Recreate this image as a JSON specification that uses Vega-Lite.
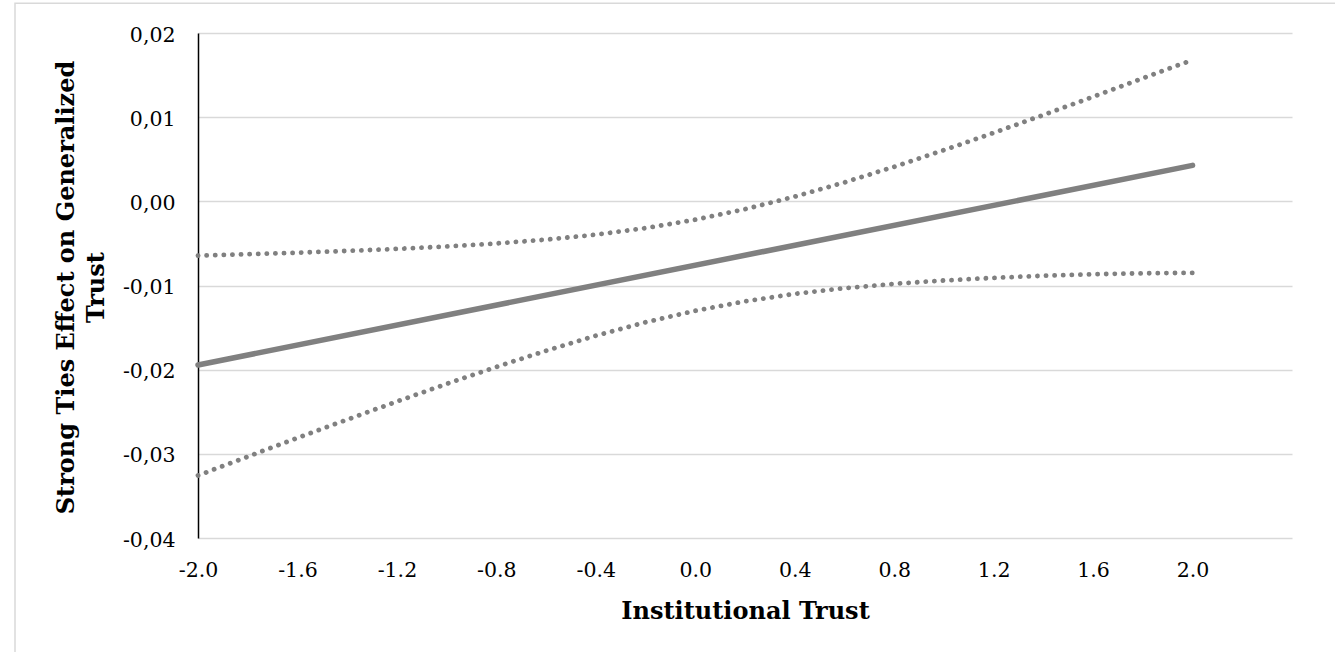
{
  "$schema": "https://vega.github.io/schema/vega-lite/v6.json",
  "autosize": {"type": "none"},
  "padding": {"left": 198, "top": 33, "right": 43, "bottom": 114},
  "width": 1094,
  "height": 505,
  "background": "white",
  "config": {
    "view": {"stroke": null},
    "font": "DejaVu Serif"
  },
  "datasets": {
    "frame": [{"x0": -2.736, "x1": 3.3, "y0": 0.02352, "y1": -0.08}],
    "curves": [
      {"x": -2.0, "y": -0.01945, "s": "estimate"},
      {"x": 2.0, "y": 0.00427, "s": "estimate"},
      {"x": -2.0, "y": -0.00645, "s": "upper"},
      {"x": -1.8, "y": -0.00628, "s": "upper"},
      {"x": -1.6, "y": -0.00610, "s": "upper"},
      {"x": -1.4, "y": -0.00589, "s": "upper"},
      {"x": -1.2, "y": -0.00565, "s": "upper"},
      {"x": -1.0, "y": -0.00536, "s": "upper"},
      {"x": -0.8, "y": -0.00500, "s": "upper"},
      {"x": -0.6, "y": -0.00455, "s": "upper"},
      {"x": -0.4, "y": -0.00396, "s": "upper"},
      {"x": -0.2, "y": -0.00318, "s": "upper"},
      {"x": 0.0, "y": -0.00218, "s": "upper"},
      {"x": 0.2, "y": -0.00093, "s": "upper"},
      {"x": 0.4, "y": 0.00056, "s": "upper"},
      {"x": 0.6, "y": 0.00225, "s": "upper"},
      {"x": 0.8, "y": 0.00411, "s": "upper"},
      {"x": 1.0, "y": 0.00608, "s": "upper"},
      {"x": 1.2, "y": 0.00814, "s": "upper"},
      {"x": 1.4, "y": 0.01026, "s": "upper"},
      {"x": 1.6, "y": 0.01243, "s": "upper"},
      {"x": 1.8, "y": 0.01463, "s": "upper"},
      {"x": 2.0, "y": 0.01680, "s": "upper"},
      {"x": -2.0, "y": -0.03257, "s": "lower"},
      {"x": -1.8, "y": -0.03033, "s": "lower"},
      {"x": -1.6, "y": -0.02811, "s": "lower"},
      {"x": -1.4, "y": -0.02593, "s": "lower"},
      {"x": -1.2, "y": -0.02378, "s": "lower"},
      {"x": -1.0, "y": -0.02169, "s": "lower"},
      {"x": -0.8, "y": -0.01967, "s": "lower"},
      {"x": -0.6, "y": -0.01775, "s": "lower"},
      {"x": -0.4, "y": -0.01597, "s": "lower"},
      {"x": -0.2, "y": -0.01437, "s": "lower"},
      {"x": 0.0, "y": -0.01300, "s": "lower"},
      {"x": 0.2, "y": -0.01188, "s": "lower"},
      {"x": 0.4, "y": -0.01099, "s": "lower"},
      {"x": 0.6, "y": -0.01032, "s": "lower"},
      {"x": 0.8, "y": -0.00980, "s": "lower"},
      {"x": 1.0, "y": -0.00940, "s": "lower"},
      {"x": 1.2, "y": -0.00909, "s": "lower"},
      {"x": 1.4, "y": -0.00884, "s": "lower"},
      {"x": 1.6, "y": -0.00866, "s": "lower"},
      {"x": 1.8, "y": -0.00855, "s": "lower"},
      {"x": 2.0, "y": -0.00850, "s": "lower"}
    ]
  },
  "data": {"name": "curves"},
  "encoding": {
    "x": {
      "field": "x",
      "type": "quantitative",
      "scale": {"domain": [-2, 2.4], "nice": false, "zero": false},
      "axis": {
        "title": "Institutional Trust",
        "titleFont": "DejaVu Serif",
        "titleFontWeight": "bold",
        "titleFontSize": 24,
        "titleColor": "#000000",
        "titleBaseline": "alphabetic",
        "titleY": 80,
        "values": [-2, -1.6, -1.2, -0.8, -0.4, 0, 0.4, 0.8, 1.2, 1.6, 2],
        "labelExpr": "replace(replace(format(datum.value, '.1f'), '\u2212', '-'), '-0.0', '0.0')",
        "labelFont": "DejaVu Serif",
        "labelFontSize": 20.5,
        "labelColor": "#000000",
        "labelBaseline": "alphabetic",
        "labelPadding": 38,
        "labelFlush": false,
        "labelOverlap": false,
        "grid": false,
        "ticks": false,
        "domain": false
      }
    },
    "y": {
      "field": "y",
      "type": "quantitative",
      "scale": {"domain": [-0.04, 0.02], "nice": false, "zero": false},
      "axis": {
        "title": ["Strong Ties Effect on Generalized", "Trust"],
        "titleFont": "DejaVu Serif",
        "titleFontWeight": "bold",
        "titleFontSize": 24,
        "titleColor": "#000000",
        "titleLineHeight": 30,
        "titleAngle": -90,
        "titleAlign": "center",
        "titleBaseline": "middle",
        "titleX": -132,
        "titleY": 254,
        "values": [-0.04, -0.03, -0.02, -0.01, 0, 0.01, 0.02],
        "labelExpr": "replace(replace(format(datum.value, '.2f'), '.', ','), '\u2212', '-')",
        "labelFont": "DejaVu Serif",
        "labelFontSize": 20.5,
        "labelColor": "#000000",
        "labelPadding": 23,
        "labelOffset": 2,
        "labelFlush": false,
        "labelOverlap": false,
        "grid": true,
        "gridColor": "#d9d9d9",
        "gridWidth": 1.5,
        "ticks": false,
        "domain": true,
        "domainColor": "#000000",
        "domainWidth": 1.5
      }
    }
  },
  "layer": [
    {
      "data": {"name": "frame"},
      "mark": {"type": "rect", "fill": "transparent", "stroke": "#d9d9d9", "strokeWidth": 1.5, "clip": false},
      "encoding": {
        "x": {"field": "x0", "type": "quantitative"},
        "x2": {"field": "x1"},
        "y": {"field": "y0", "type": "quantitative"},
        "y2": {"field": "y1"}
      }
    },
    {
      "data": {"values": [{"zero": 0}]},
      "mark": {"type": "rule", "color": "#000000", "strokeWidth": 1.5},
      "encoding": {"y": {"datum": 0}}
    },
    {
      "transform": [{"filter": "datum.s !== 'estimate'"}],
      "mark": {"type": "line", "color": "#808080", "strokeWidth": 4.8, "strokeCap": "round", "strokeDash": [0.1, 8.5]},
      "encoding": {"detail": {"field": "s", "type": "nominal"}}
    },
    {
      "transform": [{"filter": "datum.s === 'estimate'"}],
      "mark": {"type": "line", "color": "#808080", "strokeWidth": 5.5, "strokeCap": "round"},
      "encoding": {}
    }
  ]
}
